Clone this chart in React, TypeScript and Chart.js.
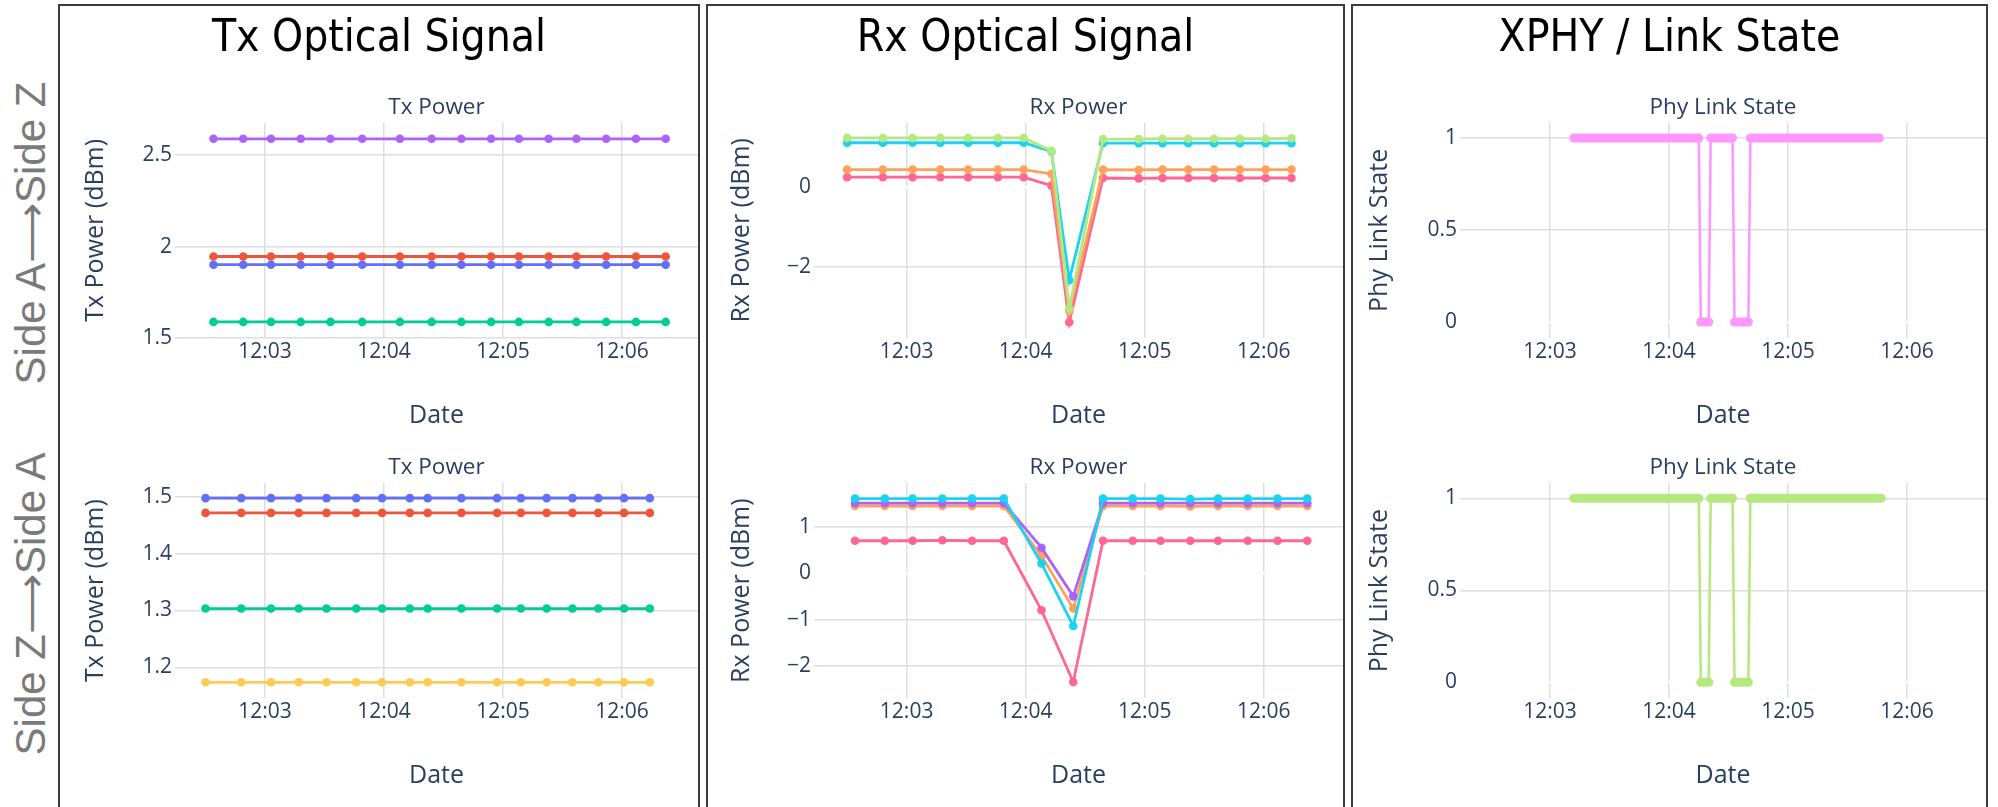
import React, { useEffect, useRef } from 'react';
import { Chart, registerables } from 'chart.js';

Chart.register(...registerables);

// ---------------- DATA ----------------
// sample timestamps (hh:mm:ss)
const timesSet1 = ['12:02:34', '12:02:49', '12:03:03', '12:03:18', '12:03:33', '12:03:49', '12:04:08', '12:04:24',
  '12:04:39', '12:04:54', '12:05:08', '12:05:23', '12:05:37', '12:05:52', '12:06:07', '12:06:22'];
const timesSet2 = ['12:02:30', '12:02:48', '12:03:03', '12:03:17', '12:03:31', '12:03:46', '12:03:59', '12:04:13',
  '12:04:22', '12:04:39', '12:04:57', '12:05:09', '12:05:22', '12:05:35', '12:05:48', '12:06:01', '12:06:14'];

const xTickLabels = ['12:03', '12:04', '12:05', '12:06'];

// Tx Power, Side A -> Side Z (timesSet1)
const txAZ_purple = [2.59, 2.59, 2.59, 2.59, 2.59, 2.59, 2.59, 2.59, 2.59, 2.59, 2.59, 2.59, 2.59, 2.59, 2.59, 2.59];
const txAZ_red = [1.946, 1.946, 1.946, 1.946, 1.946, 1.946, 1.946, 1.946, 1.946, 1.946, 1.946, 1.946, 1.946, 1.946, 1.946, 1.946];
const txAZ_blue = [1.901, 1.901, 1.901, 1.901, 1.901, 1.901, 1.901, 1.901, 1.901, 1.901, 1.901, 1.901, 1.901, 1.901, 1.901, 1.901];
const txAZ_green = [1.588, 1.588, 1.588, 1.588, 1.588, 1.588, 1.588, 1.588, 1.588, 1.588, 1.588, 1.588, 1.588, 1.588, 1.588, 1.588];
const txAZ_ticks = [1.5, 2, 2.5];

// Tx Power, Side Z -> Side A (timesSet2)
const txZA_blue = [1.498, 1.498, 1.498, 1.498, 1.498, 1.498, 1.498, 1.498, 1.498, 1.498, 1.498, 1.498, 1.498, 1.498, 1.498, 1.498, 1.498];
const txZA_red = [1.472, 1.472, 1.472, 1.472, 1.472, 1.472, 1.472, 1.472, 1.472, 1.472, 1.472, 1.472, 1.472, 1.472, 1.472, 1.472, 1.472];
const txZA_green = [1.3035, 1.3035, 1.3035, 1.3035, 1.3035, 1.3035, 1.3035, 1.3035, 1.3035, 1.3035, 1.3035, 1.3035, 1.3035, 1.3035, 1.3035, 1.3035, 1.3035];
const txZA_yellow = [1.1735, 1.1735, 1.1735, 1.1735, 1.1735, 1.1735, 1.1735, 1.1735, 1.1735, 1.1735, 1.1735, 1.1735, 1.1735, 1.1735, 1.1735, 1.1735, 1.1735];
const txZA_ticks = [1.2, 1.3, 1.4, 1.5];

// Rx Power, Side A -> Side Z (timesSet2)
const rxAZ_green = [1.22, 1.22, 1.22, 1.22, 1.22, 1.22, 1.22, 0.90, -3.04, 1.19, 1.19, 1.20, 1.20, 1.20, 1.20, 1.20, 1.21];
const rxAZ_cyan = [1.10, 1.10, 1.10, 1.10, 1.10, 1.10, 1.10, 0.88, -2.33, 1.09, 1.09, 1.09, 1.09, 1.09, 1.09, 1.09, 1.09];
const rxAZ_orange = [0.43, 0.43, 0.43, 0.43, 0.43, 0.43, 0.43, 0.32, -3.10, 0.43, 0.42, 0.43, 0.43, 0.43, 0.43, 0.43, 0.43];
const rxAZ_pink = [0.24, 0.24, 0.24, 0.24, 0.24, 0.24, 0.24, 0.03, -3.38, 0.22, 0.21, 0.22, 0.22, 0.22, 0.22, 0.22, 0.22];
const rxAZ_ticks = [-2, 0];

// Rx Power, Side Z -> Side A (timesSet1)
const rxZA_cyan = [1.61, 1.61, 1.61, 1.61, 1.61, 1.61, 0.21, -1.14, 1.61, 1.61, 1.61, 1.60, 1.61, 1.61, 1.61, 1.61];
const rxZA_purple = [1.51, 1.51, 1.51, 1.51, 1.51, 1.51, 0.55, -0.50, 1.51, 1.51, 1.51, 1.51, 1.51, 1.51, 1.51, 1.51];
const rxZA_orange = [1.45, 1.45, 1.45, 1.45, 1.45, 1.45, 0.37, -0.76, 1.45, 1.45, 1.45, 1.44, 1.45, 1.45, 1.45, 1.45];
const rxZA_pink = [0.70, 0.70, 0.70, 0.71, 0.70, 0.70, -0.80, -2.35, 0.70, 0.70, 0.70, 0.70, 0.70, 0.70, 0.70, 0.70];
const rxZA_ticks = [-2, -1, 0, 1];

// Phy link state (state-change samples)
const linkTimesAZ = ['12:03:12', '12:04:15', '12:04:16', '12:04:20', '12:04:21', '12:04:32', '12:04:33', '12:04:40', '12:04:41', '12:05:46'];
const linkStateAZ = [1, 1, 0, 0, 1, 1, 0, 0, 1, 1];
const linkTimesZA = ['12:03:12', '12:04:15', '12:04:16', '12:04:20', '12:04:21', '12:04:32', '12:04:33', '12:04:40', '12:04:41', '12:05:47'];
const linkStateZA = [1, 1, 0, 0, 1, 1, 0, 0, 1, 1];
const link_ticks = [0, 0.5, 1];

// ---------------- STYLE / LAYOUT ----------------
const FONT = "'Open Sans', 'DejaVu Sans', sans-serif";
const TEXT = '#2a3f5f';
const GRID = '#dedede';
const TITLE_SIZE = 22.5;
const TICK_SIZE = 21;
const AXIS_SIZE = 25;

const C = {
  blue: '#636EFA', red: '#EF553B', green: '#00CC96', purple: '#AB63FA', orange: '#FFA15A',
  cyan: '#19D3F3', pink: '#FF6692', lime: '#B6E880', magenta: '#FF97FF', yellow: '#FECB52',
};

const TOP_ROW = { plotTop: 122.7, plotBottom: 338, titleCY: 107.5, tickCY: 352.5, xTitleCY: 415.5 };
const BOTTOM_ROW = { plotTop: 483, plotBottom: 698.3, titleCY: 468, tickCY: 712.5, xTitleCY: 776 };
const COLS = [
  { cL: 60, cR: 698, plotLeft: 175, yTitleCX: 96, xMin: 134.6, xMax: 398.3 },
  { cL: 708, cR: 1343, plotLeft: 814, yTitleCX: 742, xMin: 133.3, xMax: 400 },
  { cL: 1353, cR: 1986, plotLeft: 1460, yTitleCX: 1380, xMin: 134.6, xMax: 399.8 },
];

const PANELS = [
  { title: 'Tx Optical Signal', left: 58, width: 642 },
  { title: 'Rx Optical Signal', left: 706, width: 639 },
  { title: 'XPHY / Link State', left: 1351, width: 637 },
];
const ROW_LABELS = [
  { text: 'Side A\u27F6Side Z', cy: 233 },
  { text: 'Side Z\u27F6Side A', cy: 604 },
];

function toSec(t: string): number {
  const parts = t.split(':').map(Number);
  return (parts[0] - 12) * 3600 + parts[1] * 60 + (parts[2] || 0);
}
function fmtNum(v: number): string {
  return v < 0 ? '\u2212' + String(Math.abs(v)) : String(v);
}

type Series = { label: string; color: string; times: string[]; values: number[] };
type Spec = {
  key: string; title: string; yTitle: string; col: number; row: any;
  yMin: number; yMax: number; yTicks: number[]; series: Series[]; step?: boolean;
};

const SPECS: Spec[] = [
  {
    key: 'txAZ', title: 'Tx Power', yTitle: 'Tx Power (dBm)', col: 0, row: TOP_ROW,
    yMin: 1.5, yMax: 2.678, yTicks: txAZ_ticks,
    series: [
      { label: 'lane 1', color: C.purple, times: timesSet1, values: txAZ_purple },
      { label: 'lane 2', color: C.red, times: timesSet1, values: txAZ_red },
      { label: 'lane 3', color: C.blue, times: timesSet1, values: txAZ_blue },
      { label: 'lane 4', color: C.green, times: timesSet1, values: txAZ_green },
    ],
  },
  {
    key: 'txZA', title: 'Tx Power', yTitle: 'Tx Power (dBm)', col: 0, row: BOTTOM_ROW,
    yMin: 1.1453, yMax: 1.5247, yTicks: txZA_ticks,
    series: [
      { label: 'lane 1', color: C.blue, times: timesSet2, values: txZA_blue },
      { label: 'lane 2', color: C.red, times: timesSet2, values: txZA_red },
      { label: 'lane 3', color: C.green, times: timesSet2, values: txZA_green },
      { label: 'lane 4', color: C.yellow, times: timesSet2, values: txZA_yellow },
    ],
  },
  {
    key: 'rxAZ', title: 'Rx Power', yTitle: 'Rx Power (dBm)', col: 1, row: TOP_ROW,
    yMin: -3.775, yMax: 1.6, yTicks: rxAZ_ticks,
    series: [
      { label: 'lane 1', color: C.lime, times: timesSet2, values: rxAZ_green },
      { label: 'lane 2', color: C.cyan, times: timesSet2, values: rxAZ_cyan },
      { label: 'lane 3', color: C.orange, times: timesSet2, values: rxAZ_orange },
      { label: 'lane 4', color: C.pink, times: timesSet2, values: rxAZ_pink },
    ],
  },
  {
    key: 'rxZA', title: 'Rx Power', yTitle: 'Rx Power (dBm)', col: 1, row: BOTTOM_ROW,
    yMin: -2.70, yMax: 1.946, yTicks: rxZA_ticks,
    series: [
      { label: 'lane 1', color: C.cyan, times: timesSet1, values: rxZA_cyan },
      { label: 'lane 2', color: C.purple, times: timesSet1, values: rxZA_purple },
      { label: 'lane 3', color: C.orange, times: timesSet1, values: rxZA_orange },
      { label: 'lane 4', color: C.pink, times: timesSet1, values: rxZA_pink },
    ],
  },
  {
    key: 'linkAZ', title: 'Phy Link State', yTitle: 'Phy Link State', col: 2, row: TOP_ROW,
    yMin: -0.087, yMax: 1.083, yTicks: link_ticks, step: true,
    series: [{ label: 'state', color: C.magenta, times: linkTimesAZ, values: linkStateAZ }],
  },
  {
    key: 'linkZA', title: 'Phy Link State', yTitle: 'Phy Link State', col: 2, row: BOTTOM_ROW,
    yMin: -0.087, yMax: 1.083, yTicks: link_ticks, step: true,
    series: [{ label: 'state', color: C.lime, times: linkTimesZA, values: linkStateZA }],
  },
];

function geometry(spec: Spec) {
  const col = COLS[spec.col];
  const row = spec.row;
  const cT = Math.round(row.titleCY - 24);
  const cB = Math.round(row.xTitleCY + 22);
  return { ...col, ...row, cT, cB, w: col.cR - col.cL, h: cB - cT };
}

function buildConfig(spec: Spec): any {
  const g = geometry(spec);
  const titleLH = TITLE_SIZE * 1.2;
  const tickLH = TICK_SIZE * 1.2;
  const axisLH = AXIS_SIZE * 1.2;
  const titlePadTop = g.titleCY - g.cT - titleLH / 2;
  const titlePadBottom = g.plotTop - g.cT - titleLH - titlePadTop;
  const yWidth = g.plotLeft - g.cL;
  const xHeight = g.cB - g.plotBottom;
  const xTickPad = g.tickCY - g.plotBottom - tickLH / 2;
  const xTitlePad = g.cB - g.xTitleCY - axisLH / 2;
  const yTitlePad = g.yTitleCX - g.cL - axisLH / 2;
  const xTickValues = xTickLabels.map((l) => toSec(l));

  const datasets = spec.series.map((s) => {
    const data = s.times.map((t, i) => ({ x: toSec(t), y: s.values[i] }));
    if (spec.step) {
      return {
        label: s.label, data, borderColor: s.color, backgroundColor: s.color,
        borderWidth: 9, pointRadius: 0, pointHoverRadius: 0, tension: 0,
        borderCapStyle: 'round', borderJoinStyle: 'round',
        segment: {
          borderWidth: (ctx: any) => (ctx.p0.parsed.y === ctx.p1.parsed.y ? 9 : 2.6),
        },
      };
    }
    return {
      label: s.label, data, borderColor: s.color, backgroundColor: s.color,
      pointBackgroundColor: s.color, pointBorderWidth: 0, pointRadius: 4.3, pointHoverRadius: 4.3,
      borderWidth: 2.8, tension: 0,
    };
  });

  return {
    type: 'line',
    data: { datasets },
    options: {
      responsive: false,
      animation: false,
      devicePixelRatio: 1,
      events: [],
      layout: { padding: 0, autoPadding: false },
      plugins: {
        legend: { display: false },
        tooltip: { enabled: false },
        title: {
          display: true, text: spec.title, fullSize: false, color: TEXT,
          font: { family: FONT, size: TITLE_SIZE, weight: 'normal' },
          padding: { top: titlePadTop, bottom: titlePadBottom },
        },
      },
      scales: {
        x: {
          type: 'linear', min: g.xMin, max: g.xMax,
          afterBuildTicks: (s: any) => { s.ticks = xTickValues.map((v) => ({ value: v })); },
          afterFit: (s: any) => { s.height = xHeight; },
          ticks: {
            callback: (_v: any, i: number) => xTickLabels[i],
            padding: xTickPad, color: TEXT, autoSkip: false, maxRotation: 0, minRotation: 0,
            font: { family: FONT, size: TICK_SIZE },
          },
          grid: { color: GRID, lineWidth: 1.5, drawTicks: false },
          border: { display: false },
          title: {
            display: true, text: 'Date', color: TEXT,
            font: { family: FONT, size: AXIS_SIZE },
            padding: { top: 0, bottom: xTitlePad },
          },
        },
        y: {
          type: 'linear', min: spec.yMin, max: spec.yMax,
          afterBuildTicks: (s: any) => { s.ticks = spec.yTicks.map((v) => ({ value: v })); },
          afterFit: (s: any) => { s.width = yWidth; },
          ticks: {
            callback: (v: any) => fmtNum(Number(v)),
            padding: 3, color: TEXT, autoSkip: false,
            font: { family: FONT, size: TICK_SIZE },
          },
          grid: {
            color: (ctx: any) => (ctx.tick && ctx.tick.value === 0 ? '#ffffff' : GRID),
            lineWidth: (ctx: any) => (ctx.tick && ctx.tick.value === 0 ? 2.5 : 1.5),
            drawTicks: false,
          },
          border: { display: false },
          title: {
            display: true, text: spec.yTitle, color: TEXT,
            font: { family: FONT, size: AXIS_SIZE },
            padding: { top: yTitlePad, bottom: 0 },
          },
        },
      },
    },
  };
}

function PlotCanvas({ spec }: { spec: Spec }) {
  const ref = useRef<HTMLCanvasElement>(null);
  const g = geometry(spec);
  useEffect(() => {
    if (!ref.current) return;
    const chart = new Chart(ref.current, buildConfig(spec));
    return () => chart.destroy();
  }, [spec]);
  return (
    <canvas
      ref={ref}
      width={g.w}
      height={g.h}
      style={{ position: 'absolute', left: g.cL, top: g.cT, width: g.w, height: g.h }}
    />
  );
}

export default function App() {
  return (
    <div
      style={{
        position: 'absolute', left: 0, top: 0, width: 1998, height: 807,
        overflow: 'hidden', background: '#ffffff',
      }}
    >
      {SPECS.map((s) => (
        <PlotCanvas key={s.key} spec={s} />
      ))}
      {PANELS.map((p) => (
        <div
          key={p.title}
          style={{
            position: 'absolute', left: p.left, top: 4, width: p.width, height: 900,
            border: '2px solid #3c3c3c', borderBottom: 'none', boxSizing: 'border-box',
            pointerEvents: 'none',
          }}
        />
      ))}
      {PANELS.map((p) => (
        <div
          key={p.title + '-t'}
          style={{
            position: 'absolute', left: p.left, top: 14, width: p.width, textAlign: 'center',
            fontFamily: "'DejaVu Sans Condensed', 'DejaVu Sans', sans-serif", fontStretch: 'condensed',
            fontSize: 44, lineHeight: '44px', color: '#000000', whiteSpace: 'nowrap',
          }}
        >
          {p.title}
        </div>
      ))}
      {ROW_LABELS.map((r) => (
        <div
          key={r.text}
          style={{
            position: 'absolute', left: 31 - 200, top: r.cy - 25, width: 400, height: 50,
            lineHeight: '50px', textAlign: 'center', transform: 'rotate(-90deg)',
            fontFamily: "'Liberation Sans', Arial, sans-serif", fontSize: 42, color: '#7a7a7a',
            whiteSpace: 'nowrap',
          }}
        >
          {r.text}
        </div>
      ))}
    </div>
  );
}
